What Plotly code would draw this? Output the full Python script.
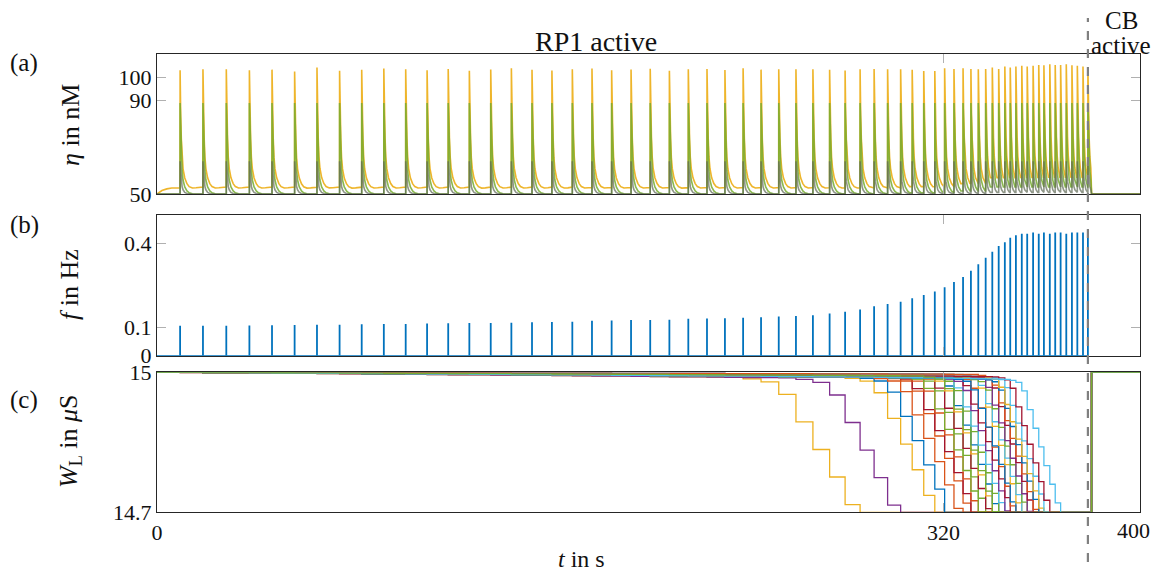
import plotly.graph_objects as go

# page has an 8 px body margin; figure sized so the page does not overflow the window
OFF = 8
W, H = 1161 - OFF, 579 - 2 * OFF

# ---------------- data ----------------
spike_t = [9.4, 18.7, 28.2, 37.6, 46.8, 56.0, 65.1, 74.3, 83.3, 92.3, 101.2, 109.9,
           118.5, 127.1, 135.8, 144.2, 152.6, 160.7, 169.0, 177.0, 185.0, 192.9, 200.7,
           208.5, 216.2, 223.8, 231.1, 238.5, 245.8, 253.0, 260.0, 266.9, 273.7, 280.0,
           286.1, 291.8, 297.3, 302.6, 307.3, 312.0, 316.5, 320.5, 324.3, 328.0, 331.2,
           334.2, 337.2, 339.9, 342.5, 345.0, 347.2, 349.5, 351.9, 354.1, 356.5, 358.8,
           360.9, 363.3, 365.5, 367.7, 370.0, 372.3, 374.5, 376.8, 378.8]

spike_f = [0.106, 0.106, 0.106, 0.107, 0.108, 0.109, 0.110, 0.110, 0.112, 0.113, 0.113,
           0.114, 0.115, 0.116, 0.116, 0.117, 0.119, 0.120, 0.121, 0.124, 0.125, 0.127,
           0.127, 0.128, 0.131, 0.132, 0.133, 0.135, 0.137, 0.139, 0.141, 0.144, 0.150,
           0.156, 0.164, 0.176, 0.184, 0.192, 0.204, 0.216, 0.228, 0.243, 0.262, 0.280,
           0.302, 0.325, 0.348, 0.369, 0.390, 0.403, 0.419, 0.428, 0.433, 0.433, 0.438,
           0.433, 0.438, 0.433, 0.438, 0.438, 0.433, 0.438, 0.438, 0.438, 0.433]

eta_peak = [103.0, 103.5, 103.5, 103.0, 103.3, 102.5, 104.2, 102.8, 103.2, 103.8, 103.5,
            103.0, 103.6, 102.8, 103.4, 103.9, 103.2, 102.9, 103.5, 103.8, 103.0, 103.4,
            103.7, 102.8, 103.5, 103.6, 103.1, 103.9, 103.3, 103.5, 103.5, 103.5, 103.2,
            102.9, 103.5, 103.6, 103.5, 103.5, 103.2, 102.7, 102.7, 103.9, 103.6, 103.9,
            103.6, 103.5, 103.6, 104.2, 103.6, 104.6, 104.2, 104.6, 105.0, 104.6, 105.0,
            105.3, 105.2, 105.6, 105.3, 105.3, 105.6, 105.2, 105.0, 104.6, 104.0]

# shape of one eta transient (offset after spike in s, value in nM)
eta_tpl_dt = [0, 0.25, 0.5, 0.8, 1.2, 1.9, 2.8, 3.7, 5.0, 6.5, 8.0]
eta_orange_tpl = [104, 84, 74, 66, 61, 57, 54.5, 53.2, 52.6, 52.7, 53.0]
eta_green_tpl = [89, 75, 66, 60, 56, 53, 51.3, 50.5, 50.1, 50.0, 50.0]
eta_gray_tpl = [64, 59, 55.5, 53.2, 51.8, 50.7, 50.2, 50.0, 50.0, 50.0, 50.0]
eta_pre_t = [0, 1, 2, 4, 6]
eta_pre_orange = [50, 50.8, 51.5, 52.2, 52.6]
t_reset = 380.3

# W_L synapse traces: onset spike index, step per spike, slow drift per spike, colour
wl_onset = [29, 32, 35, 36, 38, 38, 39, 39, 40, 40, 41, 41, 42, 42, 43, 43, 44, 44,
            45, 45, 46, 46, 47, 47, 48, 48, 49, 50, 37, 52, 41]
wl_step = [0.059, 0.059, 0.055, 0.052, 0.048, 0.045, 0.047, 0.044, 0.046, 0.043, 0.045,
           0.042, 0.044, 0.041, 0.043, 0.040, 0.042, 0.040, 0.041, 0.039, 0.040, 0.038,
           0.040, 0.038, 0.039, 0.037, 0.038, 0.040, 0.050, 0.040, 0.044]
wl_drift = [0.0004, 0.0004, 0.0003, 0.0003, 0.0003, 0.0002, 0.0003, 0.0002, 0.0003,
            0.0002, 0.0003, 0.0001, 0.0003, 0.0002, 0.0003, 0.0001, 0.0002, 0.0003,
            0.0002, 0.0001, 0.0003, 0.0002, 0.0002, 0.0001, 0.0003, 0.0002, 0.0002,
            0.0002, 0.0003, 0.0003, 0.0002]
wl_ramp = [0.05, 0.1, 0.45]
wl_color = ['#EDB120', '#7E2F8E', '#EDB120', '#0072BD', '#D95319', '#A2142F', '#D95319',
            '#77AC30', '#77AC30', '#A2142F', '#EDB120', '#0072BD', '#77AC30', '#4DBEEE',
            '#7E2F8E', '#A2142F', '#D95319', '#0072BD', '#EDB120', '#4DBEEE', '#77AC30',
            '#7E2F8E', '#A2142F', '#D95319', '#0072BD', '#EDB120', '#4DBEEE', '#A2142F',
            '#D95319', '#4DBEEE', '#77AC30']

x_ticks = [0, 320, 400]
x_ticktext = ['0', '320', '']   # "400" is placed as an annotation so it stays inside the page
eta_ticks = [50, 90, 100]
f_ticks = [0, 0.1, 0.4]
wl_ticks = [14.7, 15]

# ---------------- figure ----------------
FONT = "Liberation Serif, Times New Roman, serif"


def px_x(px):
    return (px - OFF) / W


def px_y(py):
    return 1 - (py - OFF) / H


xd = [px_x(157), px_x(1140)]
dom_a = [px_y(194), px_y(54)]
dom_b = [px_y(355.7), px_y(215)]
dom_c = [px_y(512.3), px_y(372.3)]

fig = go.Figure()


def eta_trace(tpl, pre_t, pre_v, scale):
    xs, ys = list(pre_t), list(pre_v)
    last = ys[-1]
    for i, t in enumerate(spike_t):
        end = spike_t[i + 1] if i + 1 < len(spike_t) else t_reset
        k = (eta_peak[i] - 50) / (104 - 50) if scale else 1.0
        xs.append(t)
        ys.append(last)
        for dt, v in zip(eta_tpl_dt, tpl):
            if t + dt < end - 0.05:
                xs.append(t + dt)
                ys.append(50 + (v - 50) * k)
                last = ys[-1]
    xs += [t_reset, 400]
    ys += [50, 50]
    return xs, ys


for tpl, pre_v, col, sc in [
    (eta_orange_tpl, eta_pre_orange, 'rgba(237,177,32,0.95)', True),
    (eta_green_tpl, [50] * len(eta_pre_t), 'rgba(119,172,48,0.85)', False),
    (eta_gray_tpl, [50] * len(eta_pre_t), 'rgba(95,105,85,0.7)', False),
]:
    xs, ys = eta_trace(tpl, eta_pre_t, pre_v, sc)
    fig.add_trace(go.Scatter(x=xs, y=ys, mode='lines', line=dict(color=col, width=1.6),
                             xaxis='x', yaxis='y', showlegend=False, hoverinfo='skip'))

# panel (b) stems
sx, sy = [], []
for t, f in zip(spike_t, spike_f):
    sx += [t, t, None]
    sy += [0, f, None]
fig.add_trace(go.Scatter(x=[0, spike_t[-1]], y=[0, 0], mode='lines',
                         line=dict(color='#0072BD', width=1.5), xaxis='x2', yaxis='y2',
                         showlegend=False, hoverinfo='skip'))
fig.add_trace(go.Scatter(x=sx, y=sy, mode='lines', line=dict(color='#0072BD', width=1.8),
                         xaxis='x2', yaxis='y2', showlegend=False, hoverinfo='skip'))

# panel (c) W_L step traces
for on, st, dr, col in zip(wl_onset, wl_step, wl_drift, wl_color):
    w = 15.0
    vals = []
    for i in range(len(spike_t)):
        if i < on - 2:
            w -= dr
        elif i < on + 1:
            w -= dr + st * wl_ramp[i - (on - 2)]
        else:
            w -= st
        w = max(w, 14.7)
        vals.append(w)
    xs = [0] + spike_t + [t_reset, 400]
    ys = [15] + vals + [15, 15]
    fig.add_trace(go.Scatter(x=xs, y=ys, mode='lines', line=dict(color=col, width=1.3, shape='hv'),
                             xaxis='x3', yaxis='y3', showlegend=False, hoverinfo='skip'))

axis_common = dict(showline=True, linecolor='#262626', linewidth=1, mirror='ticks',
                   ticks='inside', ticklen=9, tickcolor='#b0b0b0', tickwidth=1,
                   showgrid=False, zeroline=False, automargin=False,
                   tickfont=dict(family=FONT, size=22, color='#111111'))

fig.update_layout(
    template='none',
    width=W, height=H, autosize=False,
    margin=dict(l=0, r=0, t=0, b=0, pad=0),
    paper_bgcolor='white', plot_bgcolor='white',
    font=dict(family=FONT, size=22, color='#111111'),
    xaxis=dict(domain=xd, range=[0, 400], tickvals=x_ticks, showticklabels=False,
               anchor='y', **axis_common),
    yaxis=dict(domain=dom_a, range=[50, 110], tickvals=eta_ticks, anchor='x', **axis_common),
    xaxis2=dict(domain=xd, range=[0, 400], tickvals=x_ticks, showticklabels=False,
                anchor='y2', **axis_common),
    yaxis2=dict(domain=dom_b, range=[0, 0.5], tickvals=f_ticks, ticktext=['0', '0.1', '0.4'],
                anchor='x2', **axis_common),
    xaxis3=dict(domain=xd, range=[0, 400], tickvals=x_ticks, ticktext=x_ticktext,
                anchor='y3', **axis_common),
    yaxis3=dict(domain=dom_c, range=[14.7, 15], tickvals=wl_ticks, ticktext=['14.7', '15'],
                anchor='x3', **axis_common),
)

# dashed separator line
fig.add_shape(type='line', xref='x3', yref='paper', x0=378.8, x1=378.8,
              y0=px_y(562), y1=px_y(18),
              line=dict(color='#808080', width=2.2, dash='dash'))


def ann(text, px, py, size=25, angle=0, xanchor='center'):
    fig.add_annotation(text=text, x=px_x(px), y=px_y(py), xref='paper', yref='paper',
                       showarrow=False, xanchor=xanchor, yanchor='middle', textangle=angle,
                       font=dict(family=FONT, size=size, color='#111111'))


ann('RP1 active', 596, 41, size=28)
ann('CB', 1121, 20, size=25)
ann('active', 1121, 45, size=25)
ann('(a)', 24, 63)
ann('(b)', 24, 225)
ann('(c)', 24, 400)
ann('<i>η</i> in nM', 70, 125, size=26, angle=-90)
ann('<i>f</i> in Hz', 70, 285, size=26, angle=-90)
ann('<i>W</i><sub>L</sub> in <i>μ</i>S', 70, 441, size=26, angle=-90)
ann('<i>t</i> in s', 581, 559, size=24)
ann(str(x_ticks[-1]), 1152, 530, size=22, xanchor='right')

fig.write_html("out.html")
